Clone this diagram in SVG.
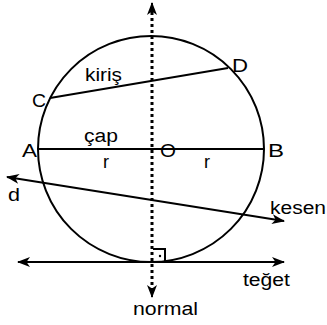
<svg xmlns="http://www.w3.org/2000/svg" width="327" height="325" viewBox="0 0 327 325">
<style>
.ln{stroke:#000;stroke-width:2;fill:none}
.t{font-family:"Liberation Sans",Arial,sans-serif;font-size:18px;fill:#000}
</style>
<defs>
<marker id="ah" viewBox="0 0 13 10" refX="12" refY="5" markerWidth="13" markerHeight="10" markerUnits="userSpaceOnUse" orient="auto-start-reverse">
<path d="M0,0 L13,5 L0,10 L3.5,5 z" fill="#000"/>
</marker>
</defs>
<g id="circle"><circle class="ln" cx="151" cy="149" r="113"/></g>
<g id="connectors">
<line id="chord" class="ln" x1="50" y1="98" x2="228" y2="68"/>
<line id="diameter" class="ln" x1="38" y1="149" x2="264" y2="149"/>
<line id="secant" class="ln" x1="7" y1="177" x2="284" y2="221" marker-start="url(#ah)" marker-end="url(#ah)"/>
<line id="tangent" class="ln" x1="18" y1="262" x2="284" y2="262" marker-start="url(#ah)" marker-end="url(#ah)"/>
<line id="normal" x1="152" y1="12" x2="152" y2="290" stroke="#000" stroke-width="3" stroke-dasharray="3 3"/>
<path d="M152,12 L152,3" stroke="#000" stroke-width="2" marker-end="url(#ah)"/>
<path d="M152,288 L152,297" stroke="#000" stroke-width="2" marker-end="url(#ah)"/>
<path class="ln" d="M153,249 H165 V262" stroke-width="1.5"/>
<circle cx="160" cy="256" r="1.2" fill="#000"/>
</g>
<g id="labels">
<text class="t" x="85" y="81" textLength="37" lengthAdjust="spacingAndGlyphs">kiriş</text>
<text class="t" x="32" y="107" textLength="14" lengthAdjust="spacingAndGlyphs">C</text>
<text class="t" x="232" y="72" textLength="16" lengthAdjust="spacingAndGlyphs">D</text>
<text class="t" x="22" y="157" textLength="15" lengthAdjust="spacingAndGlyphs">A</text>
<text class="t" x="84" y="142" textLength="34" lengthAdjust="spacingAndGlyphs">çap</text>
<text class="t" x="160" y="157" textLength="16" lengthAdjust="spacingAndGlyphs">O</text>
<text class="t" x="268" y="157" textLength="16" lengthAdjust="spacingAndGlyphs">B</text>
<text class="t" x="103" y="168">r</text>
<text class="t" x="204" y="168">r</text>
<text class="t" x="8" y="201" textLength="12" lengthAdjust="spacingAndGlyphs">d</text>
<text class="t" x="270" y="214" textLength="56" lengthAdjust="spacingAndGlyphs">kesen</text>
<text class="t" x="243" y="286" textLength="47" lengthAdjust="spacingAndGlyphs">teğet</text>
<text class="t" x="133" y="315" textLength="65" lengthAdjust="spacingAndGlyphs">normal</text>
</g>
</svg>
